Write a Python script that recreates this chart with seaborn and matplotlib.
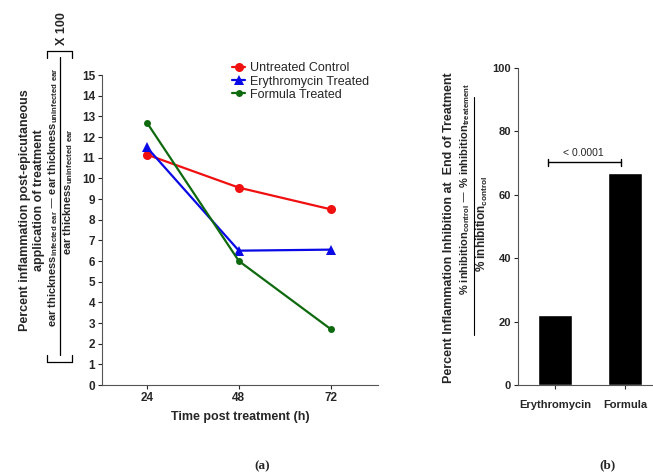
import numpy as np
import pandas as pd
import matplotlib
matplotlib.use("Agg")
import matplotlib.pyplot as plt
from matplotlib.lines import Line2D
import seaborn as sns

# data
hours = [24, 48, 72]
untreated = [11.15, 9.55, 8.5]
erythro = [11.5, 6.5, 6.55]
formula = [12.7, 6.0, 2.7]
series_names = ["Untreated Control", "Erythromycin Treated", "Formula Treated"]

bar_cats = ["Erythromycin", "Formula"]
bar_vals = [22, 67]
p_text = "< 0.0001"

sns.set_style("ticks")
plt.rcParams['font.family'] = ['Liberation Sans', 'DejaVu Sans']
plt.rcParams['mathtext.default'] = 'regular'

W, H = 653, 472
fig = plt.figure(figsize=(W / 100, H / 100), dpi=100)

def fx(px):
    return px / W

def fy(py):
    return 1 - py / H

# ---- panel (a)
ax1 = fig.add_axes([fx(102), fy(385), fx(378) - fx(102), fy(75) - fy(385)])
df = pd.DataFrame({
    "hour": hours * 3,
    "value": untreated + erythro + formula,
    "group": [series_names[0]] * 3 + [series_names[1]] * 3 + [series_names[2]] * 3,
})
pal = {series_names[0]: "#f01010", series_names[1]: "#0a0ae6", series_names[2]: "#0f6a0f"}
mk = {series_names[0]: "o", series_names[1]: "^", series_names[2]: "o"}
sns.lineplot(data=df, x="hour", y="value", hue="group", style="group", palette=pal,
             markers=mk, dashes=False, markersize=6.5, linewidth=1.6,
             markeredgewidth=0, ax=ax1)
for ln in ax1.lines:
    if ln.get_color() == "#0f6a0f":
        ln.set_markersize(5)
ax1.set_xlim(12.3, 84.3)
ax1.set_ylim(0, 15)
ax1.set_yticks(range(0, 16))
ax1.set_xticks(hours)
ax1.set_xlabel("Time post treatment (h)", fontsize=9, fontweight="bold", labelpad=5)
ax1.set_ylabel("")
sns.despine(ax=ax1)
ax1.tick_params(axis="both", labelsize=8.5, length=3, width=0.8, pad=2)
for t in ax1.get_xticklabels() + ax1.get_yticklabels():
    t.set_fontweight("bold")
for s in ax1.spines.values():
    s.set_linewidth(0.8)
ax1.spines["left"].set_color("#555555")
ax1.spines["bottom"].set_color("#555555")
leg = ax1.legend(loc="upper left", bbox_to_anchor=(fx(226), fy(56)),
                 bbox_transform=fig.transFigure, frameon=False, fontsize=9,
                 handlelength=1.05, handletextpad=0.4, labelspacing=0.1, borderpad=0)
for h in leg.legend_handles:
    if h.get_color() == "#0f6a0f":
        h.set_markersize(5)

# left y label, built as a fraction
tk = dict(rotation=90, ha="center", va="center", fontsize=9, fontweight="bold")
fig.text(fx(25), fy(210), "Percent inflammation post-epicutaneous", **tk)
fig.text(fx(39), fy(200), "application of treatment", **tk)
fig.text(fx(53), fy(197), r"ear thickness$_{infected\ ear}$ — ear thickness$_{uninfected\ ear}$",
         rotation=90, ha="center", va="center", fontsize=8, fontweight="bold")
fig.text(fx(68), fy(192), r"ear thickness$_{uninfected\ ear}$",
         rotation=90, ha="center", va="center", fontsize=8, fontweight="bold")
fig.text(fx(62), fy(29), "X 100", **tk)
fig.add_artist(Line2D([fx(60), fx(60)], [fy(57), fy(355)], color="black", lw=0.9))
for yb, lip in [(51, 7), (362, -7)]:
    fig.add_artist(Line2D([fx(47), fx(72)], [fy(yb), fy(yb)], color="black", lw=0.9))
    fig.add_artist(Line2D([fx(47), fx(47)], [fy(yb), fy(yb + lip)], color="black", lw=0.9))
    fig.add_artist(Line2D([fx(72), fx(72)], [fy(yb), fy(yb + lip)], color="black", lw=0.9))

# ---- panel (b)
ax2 = fig.add_axes([fx(518), fy(385), 1 - fx(518), fy(68) - fy(385)])
sns.barplot(x=bar_cats, y=bar_vals, color="black", width=0.49, saturation=1, ax=ax2)
ax2.set_xlim(-0.53, 1.4)
ax2.set_ylim(0, 100)
ax2.set_yticks(range(0, 101, 20))
sns.despine(ax=ax2)
ax2.tick_params(axis="both", labelsize=8, length=3, width=0.8, pad=2)
ax2.tick_params(axis="x", pad=8)
for t in ax2.get_xticklabels() + ax2.get_yticklabels():
    t.set_fontweight("bold")
for s in ax2.spines.values():
    s.set_linewidth(0.8)
ax2.spines["left"].set_color("#555555")
ax2.spines["bottom"].set_color("#555555")

# significance bracket
yb = 70.3
ax2.plot([-0.1, 0.943], [yb, yb], color="black", lw=1)
ax2.plot([-0.1, -0.1], [yb - 1.1, yb + 1.1], color="black", lw=1)
ax2.plot([0.943, 0.943], [yb - 1.1, yb + 1.1], color="black", lw=1)
ax2.text(0.4, 73.2, p_text, ha="center", va="center", fontsize=7.5)

fig.text(fx(449), fy(228), "Percent Inflammation Inhibition at  End of Treatment",
         rotation=90, ha="center", va="center", fontsize=9, fontweight="bold")
fig.text(fx(465), fy(189), r"% inhibition$_{control}$ — % inhibition$_{treatement}$",
         rotation=90, ha="center", va="center", fontsize=8, fontweight="bold")
fig.text(fx(482), fy(224), r"% inhibition$_{control}$",
         rotation=90, ha="center", va="center", fontsize=8.5, fontweight="bold")
fig.add_artist(Line2D([fx(474), fx(474)], [fy(97), fy(335)], color="black", lw=0.8))

# panel tags
fig.text(fx(262), fy(466), "(a)", ha="center", va="center", fontsize=9.5,
         fontweight="bold", family="Liberation Serif")
fig.text(fx(608), fy(465), "(b)", ha="center", va="center", fontsize=9.5,
         fontweight="bold", family="Liberation Serif")

fig.savefig("out.png", dpi=100)
